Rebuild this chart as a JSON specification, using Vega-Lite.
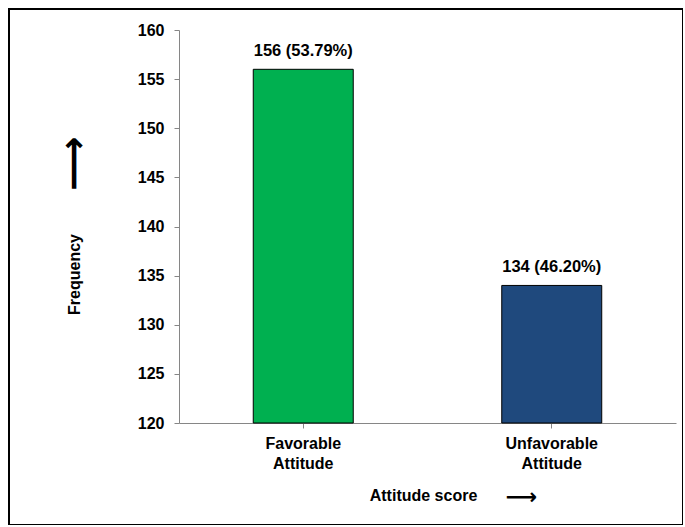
{
  "$schema": "https://vega.github.io/schema/vega-lite/v6.json",
  "width": 674,
  "height": 516,
  "autosize": {"type": "none"},
  "padding": {"left": 9, "top": 9, "right": 0, "bottom": 0},
  "background": "white",
  "config": {
    "view": {"stroke": "black", "strokeWidth": 2},
    "font": "Liberation Sans",
    "axis": {
      "labelFont": "Liberation Sans",
      "labelFontWeight": "bold",
      "labelFontSize": 16,
      "labelColor": "black",
      "titleFont": "Liberation Sans",
      "titleFontWeight": "bold",
      "titleFontSize": 16,
      "titleColor": "black",
      "domainColor": "#868686",
      "tickColor": "#868686",
      "grid": false
    }
  },
  "data": {
    "values": [
      {"attitude": "Favorable Attitude", "frequency": 156, "label": "156 (53.79%)"},
      {"attitude": "Unfavorable Attitude", "frequency": 134, "label": "134 (46.20%)"}
    ]
  },
  "resolve": {"axis": {"x": "independent", "y": "independent"}},
  "layer": [
    {
      "mark": {"type": "bar", "stroke": "black", "strokeWidth": 1},
      "encoding": {
        "x": {
          "field": "attitude",
          "type": "nominal",
          "sort": null,
          "scale": {"range": [170, 667], "paddingInner": 0.5976, "paddingOuter": 0.2988},
          "axis": {
            "orient": "bottom",
            "offset": -102,
            "labelAngle": 0,
            "labelExpr": "split(datum.label, ' ')",
            "labelLineHeight": 20,
            "tickSize": 5,
            "labelPadding": 7,
            "title": "Attitude score",
            "titleX": 414,
            "titleY": 72,
            "titleBaseline": "middle"
          }
        },
        "y": {
          "field": "frequency",
          "type": "quantitative",
          "scale": {"domain": [120, 160], "range": [414, 21], "zero": false, "nice": false},
          "axis": {
            "orient": "left",
            "offset": -170,
            "values": [120, 125, 130, 135, 140, 145, 150, 155, 160],
            "tickSize": 5,
            "labelPadding": 10,
            "title": "Frequency",
            "titleX": -105,
            "titleY": 265,
            "titleBaseline": "middle"
          }
        },
        "y2": {"datum": 120},
        "color": {"field": "attitude", "type": "nominal", "sort": null, "scale": {"range": ["#00B050", "#1F497D"]}, "legend": null}
      }
    },
    {
      "mark": {"type": "text", "dy": -18, "fontWeight": "bold", "fontSize": 16.5, "font": "Liberation Sans", "baseline": "middle", "color": "black"},
      "encoding": {
        "x": {
          "field": "attitude",
          "type": "nominal",
          "sort": null,
          "axis": {
            "orient": "bottom",
            "offset": -102,
            "domain": false,
            "ticks": false,
            "labels": false,
            "title": "⟶",
            "titleFont": "DejaVu Sans",
            "titleFontSize": 22,
            "titleX": 512,
            "titleY": 73,
            "titleBaseline": "middle"
          }
        },
        "y": {
          "field": "frequency",
          "type": "quantitative",
          "axis": {
            "orient": "left",
            "offset": -170,
            "domain": false,
            "ticks": false,
            "labels": false,
            "title": "⟶",
            "titleFont": "DejaVu Sans",
            "titleFontSize": 38,
            "titleX": -105,
            "titleY": 154,
            "titleBaseline": "middle"
          }
        },
        "text": {"field": "label"}
      }
    }
  ]
}
